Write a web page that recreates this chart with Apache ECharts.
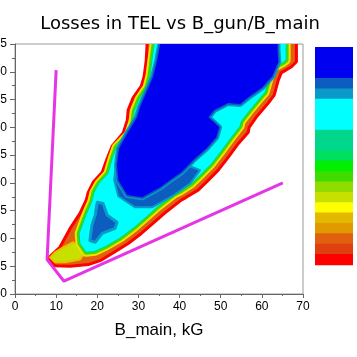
<!DOCTYPE html>
<html><head><meta charset="utf-8">
<script src="https://cdn.jsdelivr.net/npm/echarts@6/dist/echarts.min.js"></script>
<style>html,body{margin:0;padding:0;background:#fff}#c{width:357px;height:357px}</style>
</head><body><div id="c"></div>
<script>
// ---- data, x = B_main [kG], y = B_gun [kG] ----
const xTicks = [0, 10, 20, 30, 40, 50, 60, 70];
const yTicks = [0, 0.5, 1.0, 1.5, 2.0, 2.5, 3.0, 3.5, 4.0, 4.5];
// colour-bar levels (low -> high)
const lossLevels = [0,1,2,3,4,5,6,7,8,9,10,11,12,13,14,15,16,17,18,19,20];
// contour outlines
const outerEdge = [[8.0,0.64],[10.9,0.84],[13.4,1.18],[15.8,1.45],[17.3,1.69],[17.8,1.83],[19.0,2.01],[21.2,2.19],[22.4,2.44],[23.6,2.66],[26.3,2.90],[27.3,3.13],[27.5,3.31],[28.7,3.53],[30.7,3.74],[31.4,3.92],[31.9,4.21],[32.1,4.50],[32.1,4.66],[68.4,4.66],[68.4,4.18],[67.2,4.09],[64.7,3.98],[64.0,3.85],[63.0,3.58],[61.6,3.44],[58.6,3.18],[56.9,3.00],[56.7,2.91],[54.3,2.71],[51.8,2.46],[49.4,2.23],[47.0,2.05],[44.5,1.87],[41.6,1.74],[40.4,1.69],[36.3,1.45],[33.8,1.29],[30.7,1.09],[27.5,0.91],[23.6,0.73],[20.7,0.60],[17.8,0.53],[13.4,0.50],[9.7,0.51]];
const tipRegion = [[8.5,0.66],[9.7,0.75],[11.7,0.84],[14.1,0.93],[15.8,0.87],[17.0,0.75],[15.8,0.62],[12.2,0.57],[9.7,0.57]];
const cyanEdge = [[15.8,0.91],[15.6,1.09],[17.3,1.43],[18.7,1.67],[19.2,1.83],[20.4,1.99],[22.6,2.17],[23.6,2.43],[24.6,2.64],[27.7,2.88],[28.7,3.11],[29.0,3.29],[30.2,3.51],[32.1,3.72],[32.8,3.92],[33.3,4.21],[33.8,4.50],[33.8,4.66],[65.9,4.66],[65.9,4.21],[65.0,4.16],[62.8,4.07],[61.8,3.89],[60.8,3.63],[59.6,3.53],[56.9,3.29],[55.0,3.11],[54.7,3.02],[52.6,2.82],[50.1,2.57],[47.7,2.34],[45.3,2.16],[42.8,1.98],[40.1,1.85],[38.7,1.80],[34.5,1.56],[32.1,1.40],[29.0,1.20],[25.8,1.02],[22.1,0.86],[19.5,0.77],[17.3,0.75]];
const darkPatch = [[24.6,2.37],[24.1,2.05],[25.1,1.76],[29.2,1.56],[33.3,1.56],[38.2,1.76],[42.6,1.99],[45.0,2.23],[42.6,2.30],[35.3,1.99],[26.8,1.90],[25.1,2.32]];
const darkIsland = [[20.0,1.65],[21.4,1.63],[22.4,1.42],[24.8,1.29],[24.3,1.18],[21.2,1.09],[19.5,0.93],[18.2,0.96],[18.7,1.24],[19.5,1.42]];
const blueCore = [[35.3,4.66],[63.8,4.66],[63.8,4.39],[64.0,4.18],[62.5,3.92],[60.1,3.72],[56.7,3.54],[54.7,3.42],[51.8,3.44],[48.4,3.31],[47.0,3.18],[49.6,3.00],[48.9,2.82],[46.5,2.62],[43.3,2.41],[40.4,2.19],[37.7,2.05],[35.3,1.92],[30.9,1.74],[27.3,1.78],[25.1,2.05],[24.8,2.32],[25.3,2.62],[27.5,2.91],[29.7,3.18],[30.4,3.36],[31.9,3.62],[33.6,3.91],[34.6,4.21],[35.3,4.50]];
// magenta guide lines
const ratioLine = [[10.0,4.03],[7.8,0.62],[11.9,0.23],[65.1,2.00]];

// ---- styles ----
const palette = ['#ff0000','#e04010','#e06010','#e09a00','#e5b800','#ffff00','#c8e000','#90dc00','#40dc00','#00f000','#00e060','#00d68c','#00d68c','#00ffff','#00ffff','#00ffff','#0a9ac8','#0d5cbf','#0000f0','#0000f0','#0000f0'];
const layers = [
  {poly: outerEdge, fill: '#e06010', stroke: '#ff0000', lw: 3},
  {poly: tipRegion, fill: '#c8e000', stroke: '#e5c000', lw: 2},
  {poly: cyanEdge, fill: '#ffff00', stroke: '#f0e000', lw: 9},
  {poly: cyanEdge, fill: '#40dc00', stroke: '#40dc00', lw: 5},
  {poly: cyanEdge, fill: '#00ffff', stroke: '#00d68c', lw: 1},
  {poly: darkPatch, fill: '#0d5cbf', stroke: '#0a9ac8', lw: 2},
  {poly: darkIsland, fill: '#0d5cbf', stroke: '#0a9ac8', lw: 3},
  {poly: blueCore, fill: '#0a9ac8', stroke: '#0a9ac8', lw: 6},
  {poly: blueCore, fill: '#0d5cbf', stroke: '#0d5cbf', lw: 3},
  {poly: blueCore, fill: '#0000f0', stroke: null, lw: 0}
];

const chart = echarts.init(document.getElementById('c'), null, {renderer: 'canvas'});
const font = '"Liberation Sans", Arial, sans-serif';
chart.setOption({
  animation: false,
  backgroundColor: '#fff',
  title: {
    text: 'Losses in TEL vs B_gun/B_main',
    left: 175, top: 10, textAlign: 'center',
    textStyle: {fontFamily: '"DejaVu Sans", sans-serif', fontSize: 18, fontWeight: 'normal', color: '#000'}
  },
  grid: {left: 15, right: 54, top: 44, bottom: 63, show: true, borderColor: '#999', borderWidth: 1,
         containLabel: false, outerBoundsMode: 'none'},
  xAxis: {
    type: 'value', min: xTicks[0], max: xTicks[xTicks.length - 1], interval: 10,
    name: 'B_main, kG', nameLocation: 'middle', nameGap: 28,
    nameTextStyle: {fontFamily: font, fontSize: 17, color: '#000'},
    axisLine: {lineStyle: {color: '#666', width: 1}},
    axisTick: {length: 4, lineStyle: {color: '#666'}},
    minorTick: {show: true, splitNumber: 2, length: 2, lineStyle: {color: '#666'}},
    splitLine: {show: false},
    axisLabel: {fontFamily: font, fontSize: 12, color: '#000', margin: 7}
  },
  yAxis: {
    type: 'value', min: yTicks[0], max: yTicks[yTicks.length - 1], interval: 0.5,
    axisLine: {show: true, lineStyle: {color: '#666', width: 1}},
    axisTick: {show: true, length: 5, lineStyle: {color: '#666'}},
    minorTick: {show: true, splitNumber: 2, length: 3, lineStyle: {color: '#666'}},
    splitLine: {show: false},
    axisLabel: {fontFamily: font, fontSize: 12, color: '#000', margin: 8, formatter: v => v.toFixed(1)}
  },
  visualMap: {
    type: 'piecewise', seriesIndex: [],
    pieces: lossLevels.map((v, i) => ({value: v, color: palette[i]})),
    orient: 'vertical', left: 315, top: 47, padding: 0,
    itemWidth: 38, itemHeight: 11.35, itemGap: -1, itemSymbol: 'rect',
    showLabel: false, selectedMode: false, hoverLink: false
  },
  series: [
    {
      type: 'custom', clip: true, silent: true,
      data: layers.map((l, i) => [l.poly[0][0], l.poly[0][1], i]),
      renderItem: function (params, api) {
        const L = layers[params.dataIndex];
        const pts = L.poly.map(p => api.coord(p));
        return {type: 'polygon', shape: {points: pts},
          style: {fill: L.fill, stroke: L.stroke, lineWidth: L.lw, lineJoin: 'round'}};
      }
    },
    {
      type: 'line', data: ratioLine, symbol: 'none', silent: true,
      lineStyle: {color: '#e535e5', width: 3}, z: 5
    }
  ]
});
</script></body></html>
